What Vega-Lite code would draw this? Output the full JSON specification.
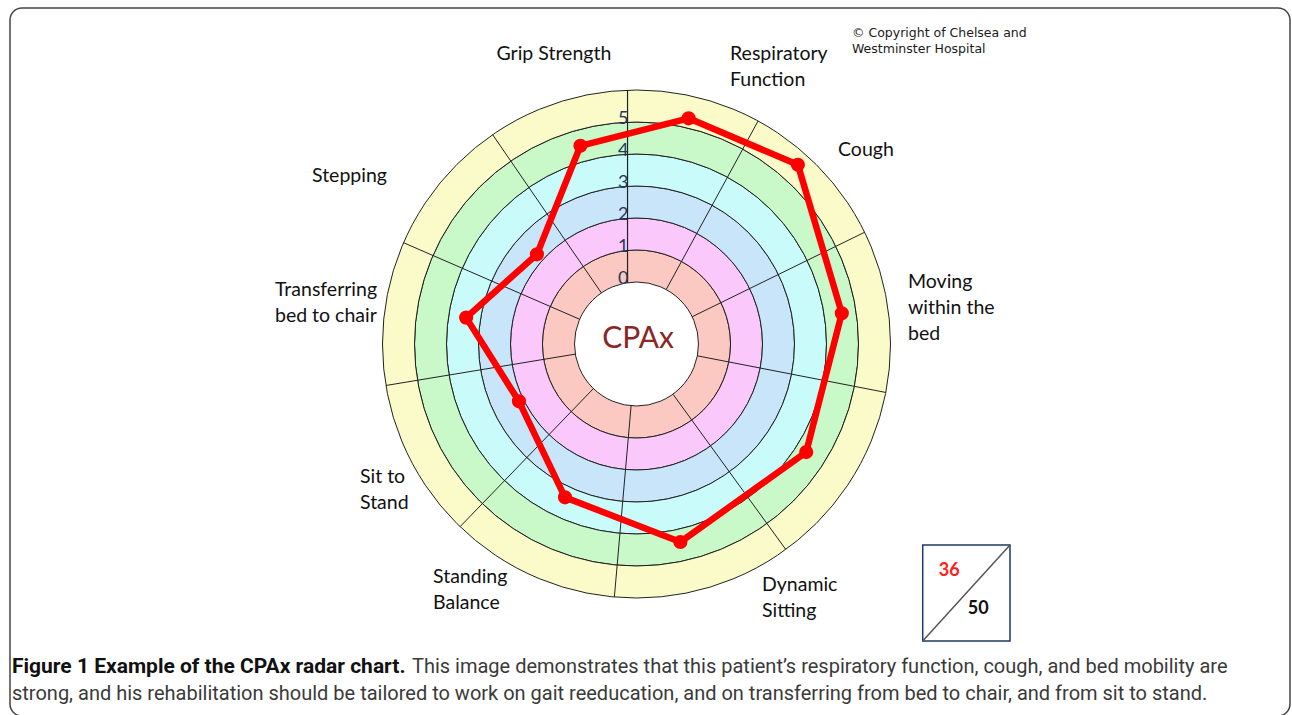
{
  "$schema": "https://vega.github.io/schema/vega-lite/v6.json",
  "width": 1280,
  "height": 708,
  "autosize": "none",
  "padding": {"left": 10, "top": 8, "right": 2, "bottom": 0},
  "background": "white",
  "config": {"view": {"stroke": "#444444", "strokeWidth": 1.5, "cornerRadius": 12}},
  "datasets": {
    "rings": [
      {"band": "0-1", "from": 0, "to": 1},
      {"band": "1-2", "from": 1, "to": 2},
      {"band": "2-3", "from": 2, "to": 3},
      {"band": "3-4", "from": 3, "to": 4},
      {"band": "4-5", "from": 4, "to": 5},
      {"band": "5-6", "from": 5, "to": 6}
    ],
    "spokes": [
      {"angle": 28.6}, {"angle": 63.9}, {"angle": 101}, {"angle": 144}, {"angle": 185},
      {"angle": 224}, {"angle": 260.6}, {"angle": 293.5}, {"angle": 325.5}
    ],
    "items": [
      {"idx": 1, "item": "Grip Strength", "label": "Grip Strength", "level": 4.5, "angle": 344.2},
      {"idx": 2, "item": "Respiratory Function", "label": "Respiratory\nFunction", "level": 5.3, "angle": 13},
      {"idx": 3, "item": "Cough", "label": "Cough", "level": 5.6, "angle": 42},
      {"idx": 4, "item": "Moving within the bed", "label": "Moving\nwithin the\nbed", "level": 4.55, "angle": 81.5},
      {"idx": 5, "item": "Supine to sitting", "label": "", "level": 4.35, "angle": 122.5},
      {"idx": 6, "item": "Dynamic Sitting", "label": "Dynamic\nSitting", "level": 4.4, "angle": 167.5},
      {"idx": 7, "item": "Standing Balance", "label": "Standing\nBalance", "level": 3.35, "angle": 205},
      {"idx": 8, "item": "Sit to Stand", "label": "Sit to\nStand", "level": 2.15, "angle": 244},
      {"idx": 9, "item": "Transferring bed to chair", "label": "Transferring\nbed to chair", "level": 3.45, "angle": 278.8},
      {"idx": 10, "item": "Stepping", "label": "Stepping", "level": 2.25, "angle": 312}
    ],
    "ticks": [{"v": 0}, {"v": 1}, {"v": 2}, {"v": 3}, {"v": 4}, {"v": 5}],
    "totals": [{"part": "scored", "value": 36}, {"part": "max", "value": 50}],
    "notes": [
      {"key": "center", "text": "CPAx"},
      {"key": "copyright", "text": "© Copyright of Chelsea and\nWestminster Hospital"},
      {"key": "capbold", "text": "Figure 1 Example of the CPAx radar chart."},
      {"key": "cap1", "text": "This image demonstrates that this patient’s respiratory function, cough, and bed mobility are"},
      {"key": "cap2", "text": "strong, and his rehabilitation should be tailored to work on gait reeducation, and on transferring from bed to chair, and from sit to stand."}
    ]
  },
  "layer": [
    {
      "data": {"name": "rings"},
      "mark": {"type": "arc", "theta": 0, "theta2": 6.2832, "stroke": "#222222", "strokeWidth": 1},
      "encoding": {
        "x": {"datum": 0, "type": "quantitative", "scale": {"domain": [-19.578125, 20.421875], "nice": false, "zero": false}, "axis": null},
        "y": {"datum": 0, "type": "quantitative", "scale": {"domain": [-11.625, 10.5], "nice": false, "zero": false}, "axis": null},
        "radius": {"field": "to", "type": "quantitative", "scale": {"type": "linear", "domain": [0, 6], "range": [62, 254], "zero": false}},
        "radius2": {"field": "from"},
        "color": {"field": "band", "type": "nominal", "legend": null,
          "scale": {"domain": ["0-1", "1-2", "2-3", "3-4", "4-5", "5-6"], "range": ["#fbc8c2", "#fbc8fb", "#c9e5fa", "#c9fbfb", "#c9f8c9", "#fbfbc9"]}}
      }
    },
    {
      "data": {"name": "spokes"},
      "transform": [
        {"calculate": "datum.angle*PI/180", "as": "rad"},
        {"calculate": "1.9375*sin(datum.rad)", "as": "sx1"},
        {"calculate": "1.9375*cos(datum.rad)", "as": "sy1"},
        {"calculate": "7.9375*sin(datum.rad)", "as": "sx2"},
        {"calculate": "7.9375*cos(datum.rad)", "as": "sy2"}
      ],
      "mark": {"type": "rule", "color": "#222222", "strokeWidth": 1},
      "encoding": {
        "x": {"field": "sx1", "type": "quantitative", "scale": {"domain": [-19.578125, 20.421875], "nice": false, "zero": false}, "axis": null},
        "y": {"field": "sy1", "type": "quantitative", "scale": {"domain": [-11.625, 10.5], "nice": false, "zero": false}, "axis": null},
        "x2": {"field": "sx2"},
        "y2": {"field": "sy2"}
      }
    },
    {
      "data": {"name": "ticks"},
      "transform": [{"filter": "datum.v == 0"}],
      "mark": {"type": "rule", "color": "#222222", "strokeWidth": 1.2},
      "encoding": {
        "x": {"datum": -0.28, "type": "quantitative", "scale": {"domain": [-19.578125, 20.421875], "nice": false, "zero": false}, "axis": null},
        "y": {"datum": 1.917, "type": "quantitative", "scale": {"domain": [-11.625, 10.5], "nice": false, "zero": false}, "axis": null},
        "y2": {"datum": 7.932}
      }
    },
    {
      "data": {"name": "ticks"},
      "transform": [{"calculate": "datum.v + 1.9375", "as": "ty"}],
      "mark": {"type": "text", "align": "right", "baseline": "middle", "dy": -3, "dx": 1, "font": "Lato", "fontSize": 18, "color": "#23395b"},
      "encoding": {
        "x": {"datum": -0.28, "type": "quantitative", "scale": {"domain": [-19.578125, 20.421875], "nice": false, "zero": false}, "axis": null},
        "y": {"field": "ty", "type": "quantitative", "scale": {"domain": [-11.625, 10.5], "nice": false, "zero": false}, "axis": null},
        "text": {"field": "v", "type": "quantitative"}
      }
    },
    {
      "data": {"name": "notes"},
      "transform": [{"filter": "datum.key == 'center'"}],
      "mark": {"type": "text", "align": "center", "baseline": "middle", "font": "Lato", "fontSize": 30, "color": "#8a2626"},
      "encoding": {
        "x": {"datum": 0.05, "type": "quantitative", "scale": {"domain": [-19.578125, 20.421875], "nice": false, "zero": false}, "axis": null},
        "y": {"datum": 0.15, "type": "quantitative", "scale": {"domain": [-11.625, 10.5], "nice": false, "zero": false}, "axis": null},
        "text": {"field": "text"}
      }
    },
    {
      "data": {"name": "items"},
      "transform": [
        {"calculate": "datum.angle*PI/180", "as": "rad"},
        {"calculate": "(datum.level + 1.9375)*sin(datum.rad)", "as": "px"},
        {"calculate": "(datum.level + 1.9375)*cos(datum.rad)", "as": "py"}
      ],
      "mark": {"type": "line", "interpolate": "linear-closed", "color": "#ff0000", "strokeWidth": 6.5, "strokeJoin": "round"},
      "encoding": {
        "x": {"field": "px", "type": "quantitative", "scale": {"domain": [-19.578125, 20.421875], "nice": false, "zero": false}, "axis": null},
        "y": {"field": "py", "type": "quantitative", "scale": {"domain": [-11.625, 10.5], "nice": false, "zero": false}, "axis": null},
        "order": {"field": "idx", "type": "quantitative"}
      }
    },
    {
      "data": {"name": "items"},
      "transform": [
        {"calculate": "datum.angle*PI/180", "as": "rad"},
        {"calculate": "(datum.level + 1.9375)*sin(datum.rad)", "as": "px"},
        {"calculate": "(datum.level + 1.9375)*cos(datum.rad)", "as": "py"}
      ],
      "mark": {"type": "circle", "color": "#ff0000", "size": 200, "opacity": 1},
      "encoding": {
        "x": {"field": "px", "type": "quantitative", "scale": {"domain": [-19.578125, 20.421875], "nice": false, "zero": false}, "axis": null},
        "y": {"field": "py", "type": "quantitative", "scale": {"domain": [-11.625, 10.5], "nice": false, "zero": false}, "axis": null}
      }
    },
    {
      "data": {"name": "items"},
      "transform": [{"filter": "datum.idx == 1"}],
      "mark": {"type": "text", "align": "left", "baseline": "alphabetic", "font": "Lato", "fontSize": 19.5, "color": "#111111", "lineBreak": "\n", "lineHeight": 26},
      "encoding": {
        "x": {"datum": -4.375, "type": "quantitative", "scale": {"domain": [-19.578125, 20.421875], "nice": false, "zero": false}, "axis": null},
        "y": {"datum": 8.875, "type": "quantitative", "scale": {"domain": [-11.625, 10.5], "nice": false, "zero": false}, "axis": null},
        "text": {"field": "label"}
      }
    },
    {
      "data": {"name": "items"},
      "transform": [{"filter": "datum.idx == 2"}],
      "mark": {"type": "text", "align": "left", "baseline": "alphabetic", "font": "Lato", "fontSize": 19.5, "color": "#111111", "lineBreak": "\n", "lineHeight": 26},
      "encoding": {
        "x": {"datum": 2.922, "type": "quantitative", "scale": {"domain": [-19.578125, 20.421875], "nice": false, "zero": false}, "axis": null},
        "y": {"datum": 8.875, "type": "quantitative", "scale": {"domain": [-11.625, 10.5], "nice": false, "zero": false}, "axis": null},
        "text": {"field": "label"}
      }
    },
    {
      "data": {"name": "items"},
      "transform": [{"filter": "datum.idx == 3"}],
      "mark": {"type": "text", "align": "left", "baseline": "alphabetic", "font": "Lato", "fontSize": 19.5, "color": "#111111", "lineBreak": "\n", "lineHeight": 26},
      "encoding": {
        "x": {"datum": 6.297, "type": "quantitative", "scale": {"domain": [-19.578125, 20.421875], "nice": false, "zero": false}, "axis": null},
        "y": {"datum": 5.875, "type": "quantitative", "scale": {"domain": [-11.625, 10.5], "nice": false, "zero": false}, "axis": null},
        "text": {"field": "label"}
      }
    },
    {
      "data": {"name": "items"},
      "transform": [{"filter": "datum.idx == 4"}],
      "mark": {"type": "text", "align": "left", "baseline": "alphabetic", "font": "Lato", "fontSize": 19.5, "color": "#111111", "lineBreak": "\n", "lineHeight": 26},
      "encoding": {
        "x": {"datum": 8.484, "type": "quantitative", "scale": {"domain": [-19.578125, 20.421875], "nice": false, "zero": false}, "axis": null},
        "y": {"datum": 1.75, "type": "quantitative", "scale": {"domain": [-11.625, 10.5], "nice": false, "zero": false}, "axis": null},
        "text": {"field": "label"}
      }
    },
    {
      "data": {"name": "items"},
      "transform": [{"filter": "datum.idx == 6"}],
      "mark": {"type": "text", "align": "left", "baseline": "alphabetic", "font": "Lato", "fontSize": 19.5, "color": "#111111", "lineBreak": "\n", "lineHeight": 26},
      "encoding": {
        "x": {"datum": 3.922, "type": "quantitative", "scale": {"domain": [-19.578125, 20.421875], "nice": false, "zero": false}, "axis": null},
        "y": {"datum": -7.72, "type": "quantitative", "scale": {"domain": [-11.625, 10.5], "nice": false, "zero": false}, "axis": null},
        "text": {"field": "label"}
      }
    },
    {
      "data": {"name": "items"},
      "transform": [{"filter": "datum.idx == 7"}],
      "mark": {"type": "text", "align": "left", "baseline": "alphabetic", "font": "Lato", "fontSize": 19.5, "color": "#111111", "lineBreak": "\n", "lineHeight": 26},
      "encoding": {
        "x": {"datum": -6.359, "type": "quantitative", "scale": {"domain": [-19.578125, 20.421875], "nice": false, "zero": false}, "axis": null},
        "y": {"datum": -7.469, "type": "quantitative", "scale": {"domain": [-11.625, 10.5], "nice": false, "zero": false}, "axis": null},
        "text": {"field": "label"}
      }
    },
    {
      "data": {"name": "items"},
      "transform": [{"filter": "datum.idx == 8"}],
      "mark": {"type": "text", "align": "left", "baseline": "alphabetic", "font": "Lato", "fontSize": 19.5, "color": "#111111", "lineBreak": "\n", "lineHeight": 26},
      "encoding": {
        "x": {"datum": -8.641, "type": "quantitative", "scale": {"domain": [-19.578125, 20.421875], "nice": false, "zero": false}, "axis": null},
        "y": {"datum": -4.344, "type": "quantitative", "scale": {"domain": [-11.625, 10.5], "nice": false, "zero": false}, "axis": null},
        "text": {"field": "label"}
      }
    },
    {
      "data": {"name": "items"},
      "transform": [{"filter": "datum.idx == 9"}],
      "mark": {"type": "text", "align": "left", "baseline": "alphabetic", "font": "Lato", "fontSize": 19.5, "color": "#111111", "lineBreak": "\n", "lineHeight": 26},
      "encoding": {
        "x": {"datum": -11.297, "type": "quantitative", "scale": {"domain": [-19.578125, 20.421875], "nice": false, "zero": false}, "axis": null},
        "y": {"datum": 1.5, "type": "quantitative", "scale": {"domain": [-11.625, 10.5], "nice": false, "zero": false}, "axis": null},
        "text": {"field": "label"}
      }
    },
    {
      "data": {"name": "items"},
      "transform": [{"filter": "datum.idx == 10"}],
      "mark": {"type": "text", "align": "left", "baseline": "alphabetic", "font": "Lato", "fontSize": 19.5, "color": "#111111", "lineBreak": "\n", "lineHeight": 26},
      "encoding": {
        "x": {"datum": -10.14, "type": "quantitative", "scale": {"domain": [-19.578125, 20.421875], "nice": false, "zero": false}, "axis": null},
        "y": {"datum": 5.0625, "type": "quantitative", "scale": {"domain": [-11.625, 10.5], "nice": false, "zero": false}, "axis": null},
        "text": {"field": "label"}
      }
    },
    {
      "data": {"name": "totals"},
      "transform": [{"filter": "datum.part == 'max'"}],
      "mark": {"type": "rect", "fill": "white", "stroke": "#1f3864", "strokeWidth": 1.5},
      "encoding": {
        "x": {"datum": 8.944, "type": "quantitative", "scale": {"domain": [-19.578125, 20.421875], "nice": false, "zero": false}, "axis": null},
        "y": {"datum": -6.281, "type": "quantitative", "scale": {"domain": [-11.625, 10.5], "nice": false, "zero": false}, "axis": null},
        "x2": {"datum": 11.672},
        "y2": {"datum": -9.281}
      }
    },
    {
      "data": {"name": "totals"},
      "transform": [{"filter": "datum.part == 'max'"}],
      "mark": {"type": "rule", "color": "#555555", "strokeWidth": 1.5},
      "encoding": {
        "x": {"datum": 8.944, "type": "quantitative", "scale": {"domain": [-19.578125, 20.421875], "nice": false, "zero": false}, "axis": null},
        "y": {"datum": -9.281, "type": "quantitative", "scale": {"domain": [-11.625, 10.5], "nice": false, "zero": false}, "axis": null},
        "x2": {"datum": 11.672},
        "y2": {"datum": -6.281}
      }
    },
    {
      "data": {"name": "totals"},
      "transform": [{"filter": "datum.part == 'scored'"}],
      "mark": {"type": "text", "align": "center", "baseline": "middle", "font": "Lato", "fontSize": 18, "fontWeight": "bold", "color": "#ff2020"},
      "encoding": {
        "x": {"datum": 9.775, "type": "quantitative", "scale": {"domain": [-19.578125, 20.421875], "nice": false, "zero": false}, "axis": null},
        "y": {"datum": -7.084, "type": "quantitative", "scale": {"domain": [-11.625, 10.5], "nice": false, "zero": false}, "axis": null},
        "text": {"field": "value", "type": "quantitative"}
      }
    },
    {
      "data": {"name": "totals"},
      "transform": [{"filter": "datum.part == 'max'"}],
      "mark": {"type": "text", "align": "center", "baseline": "middle", "font": "Lato", "fontSize": 18, "fontWeight": "bold", "color": "#111111"},
      "encoding": {
        "x": {"datum": 10.681, "type": "quantitative", "scale": {"domain": [-19.578125, 20.421875], "nice": false, "zero": false}, "axis": null},
        "y": {"datum": -8.291, "type": "quantitative", "scale": {"domain": [-11.625, 10.5], "nice": false, "zero": false}, "axis": null},
        "text": {"field": "value", "type": "quantitative"}
      }
    },
    {
      "data": {"name": "notes"},
      "transform": [{"filter": "datum.key == 'copyright'"}],
      "mark": {"type": "text", "align": "left", "baseline": "alphabetic", "font": "DejaVu Sans", "fontSize": 12.5, "color": "#1a1a1a", "lineBreak": "\n", "lineHeight": 16},
      "encoding": {
        "x": {"datum": 6.734, "type": "quantitative", "scale": {"domain": [-19.578125, 20.421875], "nice": false, "zero": false}, "axis": null},
        "y": {"datum": 9.594, "type": "quantitative", "scale": {"domain": [-11.625, 10.5], "nice": false, "zero": false}, "axis": null},
        "text": {"field": "text"}
      }
    },
    {
      "data": {"name": "notes"},
      "transform": [{"filter": "datum.key == 'capbold'"}],
      "mark": {"type": "text", "align": "left", "baseline": "alphabetic", "font": "Roboto", "fontSize": 21, "fontWeight": "bold", "color": "#111111"},
      "encoding": {
        "x": {"datum": -19.516, "type": "quantitative", "scale": {"domain": [-19.578125, 20.421875], "nice": false, "zero": false}, "axis": null},
        "y": {"datum": -10.281, "type": "quantitative", "scale": {"domain": [-11.625, 10.5], "nice": false, "zero": false}, "axis": null},
        "text": {"field": "text"}
      }
    },
    {
      "data": {"name": "notes"},
      "transform": [{"filter": "datum.key == 'cap1'"}],
      "mark": {"type": "text", "align": "left", "baseline": "alphabetic", "font": "Roboto", "fontSize": 20, "color": "#3a3a3a"},
      "encoding": {
        "x": {"datum": -7.016, "type": "quantitative", "scale": {"domain": [-19.578125, 20.421875], "nice": false, "zero": false}, "axis": null},
        "y": {"datum": -10.281, "type": "quantitative", "scale": {"domain": [-11.625, 10.5], "nice": false, "zero": false}, "axis": null},
        "text": {"field": "text"}
      }
    },
    {
      "data": {"name": "notes"},
      "transform": [{"filter": "datum.key == 'cap2'"}],
      "mark": {"type": "text", "align": "left", "baseline": "alphabetic", "font": "Roboto", "fontSize": 20, "color": "#3a3a3a"},
      "encoding": {
        "x": {"datum": -19.516, "type": "quantitative", "scale": {"domain": [-19.578125, 20.421875], "nice": false, "zero": false}, "axis": null},
        "y": {"datum": -11.125, "type": "quantitative", "scale": {"domain": [-11.625, 10.5], "nice": false, "zero": false}, "axis": null},
        "text": {"field": "text"}
      }
    }
  ]
}
